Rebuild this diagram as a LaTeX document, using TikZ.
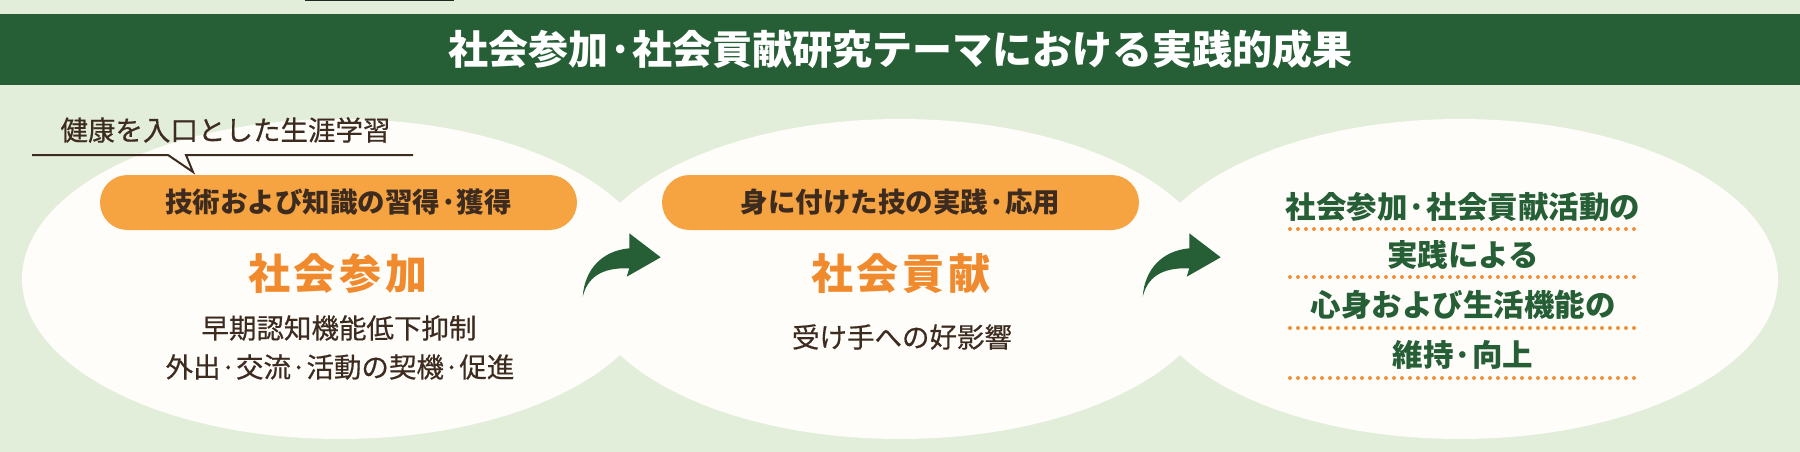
\documentclass[tikz,border=0pt]{standalone}
\usepackage{fontspec}
\setmainfont{Noto Sans CJK JP}
\newfontfamily\jpmed[FakeBold=0.5]{Noto Sans CJK JP}
\usetikzlibrary{shapes.geometric}
\definecolor{bg}{HTML}{E2EEDA}
\definecolor{band}{HTML}{265E36}
\definecolor{ewhite}{HTML}{FEFDF9}
\definecolor{pill}{HTML}{F5A441}
\definecolor{orangetxt}{HTML}{F08A2C}
\definecolor{browntxt}{HTML}{3D2B1F}
\definecolor{dotorange}{HTML}{F0913A}
\definecolor{topbar}{HTML}{1E2A20}
\newcommand\bentarrow[1]{%
  \fill[band,shift={#1}] (0,0) .. controls (2,-28) and (20,-46) .. (46.6,-48.4)
    -- (46.6,-63.4) -- (78,-39.4) -- (44,-20) -- (46.6,-28.4)
    .. controls (25,-29) and (6,-24) .. (0,0) -- cycle;}
\begin{document}
\begin{tikzpicture}[x=1pt,y=-1pt,
  blob/.style={ellipse,fill=ewhite,minimum width=636pt,minimum height=320pt,inner sep=0pt},
  pillbox/.style={rectangle,rounded corners=27.5pt,fill=pill,minimum width=477pt,minimum height=55pt,inner sep=0pt,
     text=browntxt,font=\fontsize{27.5}{30}\selectfont\bfseries},
  bigword/.style={inner sep=0pt,text=orangetxt,font=\fontsize{42}{46}\selectfont\bfseries},
  plain/.style={inner sep=0pt,text=browntxt,font=\fontsize{27.5}{30}\jpmed},
  result/.style={inner sep=0pt,text=band,font=\fontsize{30.5}{34}\selectfont\bfseries},
  dotline/.style={dotorange,line width=4pt,line cap=round,dash pattern=on 0pt off 8pt}]
\useasboundingbox (0,0) rectangle (1800,452);
\fill[bg] (0,0) rectangle (1800,452);
% cut-off tab at top
\fill[topbar] (305,0) rectangle (454,1.5);
% title band
\node[fill=band,minimum width=1800pt,minimum height=71pt,inner sep=0pt,anchor=north west] (band) at (0,14) {};
\node[inner sep=0pt,text=white,font=\fontsize{40}{44}\selectfont\bfseries] (title) at (band.center)
  {社会参加·社会貢献研究テーマにおける実践的成果};
% ellipses
\node[blob] (e1) at (340,279) {};
\node[blob] (e2) at (900,279) {};
\node[blob] (e3) at (1460,279) {};
% speech label
\node[plain] (lead) at (225.5,130) {健康を入口とした生涯学習};
\coordinate (ls) at (32,155);
\coordinate (le) at (413,155);
\draw[browntxt,line width=2pt] (ls) -- (168,155) -- (193,172) -- (186,155) -- (le);
% ellipse 1
\node[pillbox] (p1) at (338.5,202.5) {技術および知識の習得·獲得};
\node[bigword] (w1) at (338,274) {社\hspace{4pt}会\hspace{4pt}参\hspace{4pt}加};
\node[plain] (a1) at (339,328) {早期認知機能低下抑制};
\node[plain] (b1) at (340,367) {外出·交流·活動の契機·促進};
% ellipse 2
\node[pillbox] (p2) at (900.5,202.5) {身に付けた技の実践·応用};
\node[bigword] (w2) at (901,274) {社\hspace{4pt}会\hspace{4pt}貢\hspace{4pt}献};
\node[plain] (a2) at (902,337) {受け手への好影響};
% ellipse 3
\node[result] (r1) at (1463,207) {社会参加·社会貢献活動の};
\node[result] (r2) at (1463,255) {実践による};
\node[result] (r3) at (1463,305) {心身および生活機能の};
\node[result] (r4) at (1463,355) {維持·向上};
\draw[dotline] (1290,229) -- (1636,229);
\draw[dotline] (1290,277) -- (1636,277);
\draw[dotline] (1290,328) -- (1636,328);
\draw[dotline] (1290,378) -- (1636,378);
% arrows
\bentarrow{(582.7,296.7)}
\bentarrow{(1142.7,296.7)}
\end{tikzpicture}
\end{document}
